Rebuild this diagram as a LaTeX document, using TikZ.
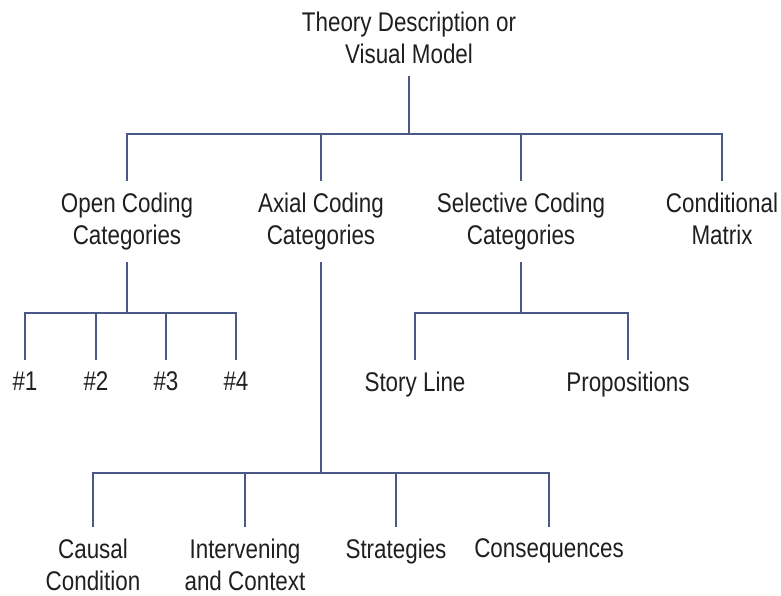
\documentclass[tikz,border=0pt]{standalone}
\usepackage{fontspec}
\setmainfont[FakeStretch=0.83]{Liberation Sans}
\usepackage{tikz}
\usetikzlibrary{positioning}
\definecolor{cLine}{HTML}{4A5888}
\definecolor{cText}{HTML}{1F1F1F}

\begin{document}
\begin{tikzpicture}[
    x=1pt, y=-1pt,
    lbl/.style={inner sep=0pt, outer ysep=12pt, align=center, text=cText,
                font=\fontsize{27pt}{32pt}\selectfont},
    link/.style={draw=cLine, line width=2.2pt},
  ]
  \useasboundingbox (0,0) rectangle (781,596);

  % Root
  \node[lbl, anchor=south] (root) at (409,76) {Theory Description or\\Visual Model};

  % Coding categories
  \node[lbl, anchor=north] (open)   at (127,181) {Open Coding\\Categories};
  \node[lbl, anchor=north] (axial)  at (321,181) {Axial Coding\\Categories};
  \node[lbl, anchor=north] (select) at (521,181) {Selective Coding\\Categories};
  \node[lbl, anchor=north] (cond)   at (722,181) {Conditional\\Matrix};

  \coordinate (b1) at (root.south |- 0,134);
  \draw[link] (root.south) -- (b1);
  \foreach \n in {open, axial, select, cond}
    \draw[link] (\n.north) |- (b1);

  % Open coding
  \node[lbl, anchor=north] (h1) at (25,360)  {\#1};
  \node[lbl, anchor=north] (h2) at (96,360)  {\#2};
  \node[lbl, anchor=north] (h3) at (166,360) {\#3};
  \node[lbl, anchor=north] (h4) at (236,360) {\#4};

  \coordinate (b2) at (open.south |- 0,313);
  \draw[link] (open.south) -- (b2);
  \foreach \n in {h1, h2, h3, h4}
    \draw[link] (\n.north) |- (b2);

  % Selective coding
  \node[lbl, anchor=north] (story) at (415,360) {Story Line};
  \node[lbl, anchor=north] (prop)  at (628,360) {Propositions};

  \coordinate (b3) at (select.south |- 0,313);
  \draw[link] (select.south) -- (b3);
  \foreach \n in {story, prop}
    \draw[link] (\n.north) |- (b3);

  % Axial coding
  \node[lbl, anchor=north] (causal) at (93,527)  {Causal\\Condition};
  \node[lbl, anchor=north] (interv) at (245,527) {Intervening\\and Context};
  \node[lbl, anchor=north] (strat)  at (396,527) {Strategies};
  \node[lbl, anchor=north] (conseq) at (549,527) {Consequences};

  \coordinate (b4) at (axial.south |- 0,473);
  \draw[link] (axial.south) -- (b4);
  \foreach \n in {causal, interv, strat, conseq}
    \draw[link] (\n.north) |- (b4);
\end{tikzpicture}
\end{document}
